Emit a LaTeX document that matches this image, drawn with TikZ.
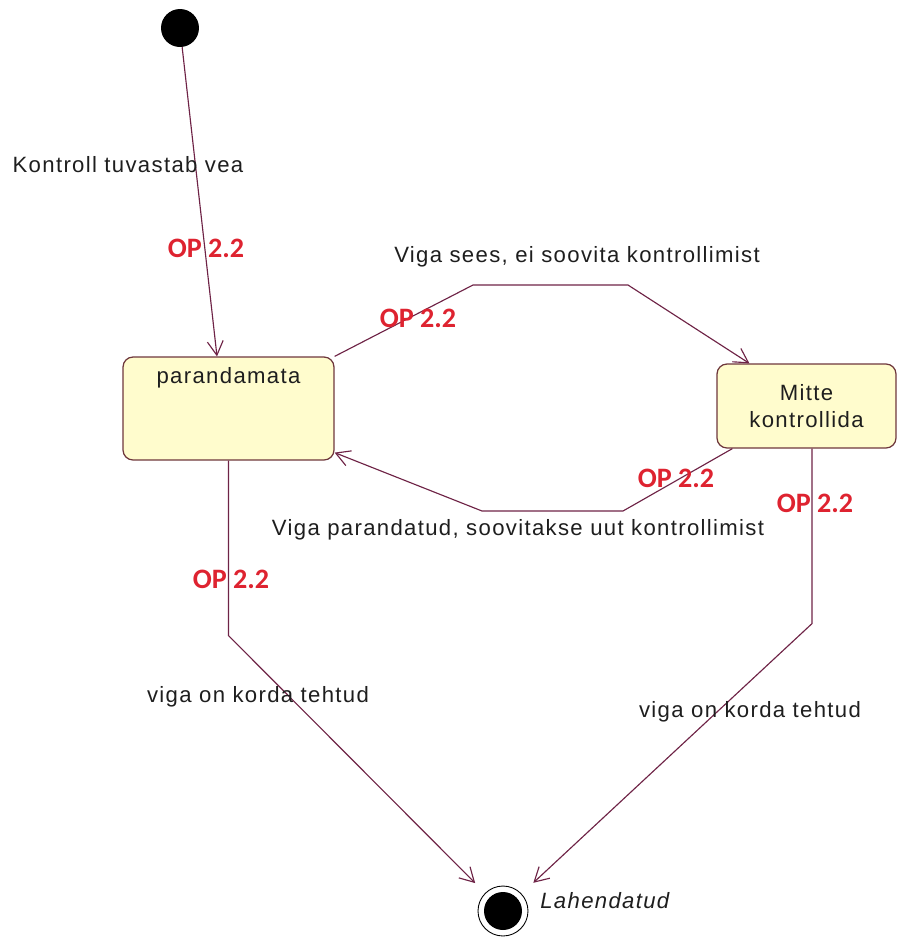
\documentclass[tikz,border=0pt]{standalone}
\usepackage{fontspec}
\setmainfont{Liberation Sans}[LetterSpace=6]
\newfontfamily\opfont{Carlito}
\usetikzlibrary{arrows.meta}

\definecolor{linecol}{RGB}{110,35,70}
\definecolor{boxline}{RGB}{110,55,60}
\definecolor{statefill}{RGB}{255,252,205}
\definecolor{opred}{RGB}{222,35,48}
\definecolor{txt}{RGB}{30,30,30}

\begin{document}
\begin{tikzpicture}[x=0.02cm, y=-0.02cm,
      state/.style={rectangle, draw=boxline, line width=0.7pt, rounded corners=0.2cm, fill=statefill, align=center, text=txt, font=\fontsize{12.6}{15.5}\selectfont},
      trans/.style={draw=linecol, line width=0.65pt, -{Straight Barb[length=8pt,width=9pt]}},
      lbl/.style={inner sep=0pt, text=txt, font=\fontsize{12.6}{14}\selectfont},
      op/.style={inner sep=0pt, text=opred, font=\opfont\bfseries\fontsize{16}{18}\selectfont}
  ]
  \useasboundingbox (0,0) rectangle (899,938);

  % States
  \node[circle, fill=black, minimum size=0.76cm, inner sep=0pt] (start) at (180,28) {};
  \node[state, minimum width=4.22cm, minimum height=2.06cm,
        label={[lbl, anchor=north, yshift=-0.22cm]north:parandamata}] (parand) at (228.5,408.5) {};
  \node[state, minimum width=3.58cm, minimum height=1.68cm] (mitte) at (806.5,406) {Mitte\\kontrollida};
  \node[circle, draw=black, line width=0.5pt, minimum size=1.0cm, inner sep=0pt,
        path picture={\fill[black] (path picture bounding box.center) circle (0.38cm);}] (end) at (503,911) {};
  \node[lbl, font=\fontsize{12.6}{14}\selectfont\itshape, anchor=west] (lahend) at (540,901) {Lahendatud};

  % Transitions
  \draw[trans] (start) -- ([xshift=-0.23cm]parand.north);
  \draw[trans] (parand.north east) -- (473,285) -- (628,285) -- ([xshift=0.66cm]mitte.north west);
  \draw[trans] ([xshift=0.32cm]mitte.south west) -- (623,511) -- (482,511) -- ([yshift=0.16cm]parand.south east);
  \draw[trans, shorten >=0.28cm] (parand.south) -- ++(0,175) -- (end);
  \draw[trans, shorten >=0.32cm] ([xshift=0.11cm]mitte.south) -- ++(0,175) -- (end);

  % Labels
  \node[lbl] (kontroll) at (128,165) {Kontroll tuvastab vea};
  \node[op] (op1) at (206,248) {OP 2.2};
  \node[lbl] (sees) at (577,257) {Viga sees, ei soovita kontrollimist};
  \node[op] (op2) at (418,318) {OP 2.2};
  \node[lbl] (parandatud) at (518,530) {Viga parandatud, soovitakse uut kontrollimist};
  \node[op] (op3) at (676,478) {OP 2.2};
  \node[op] (op4) at (231,579) {OP 2.2};
  \node[lbl] (korda1) at (258,697) {viga on korda tehtud};
  \node[op] (op5) at (815,503) {OP 2.2};
  \node[lbl] (korda2) at (750,712) {viga on korda tehtud};

\end{tikzpicture}
\end{document}
